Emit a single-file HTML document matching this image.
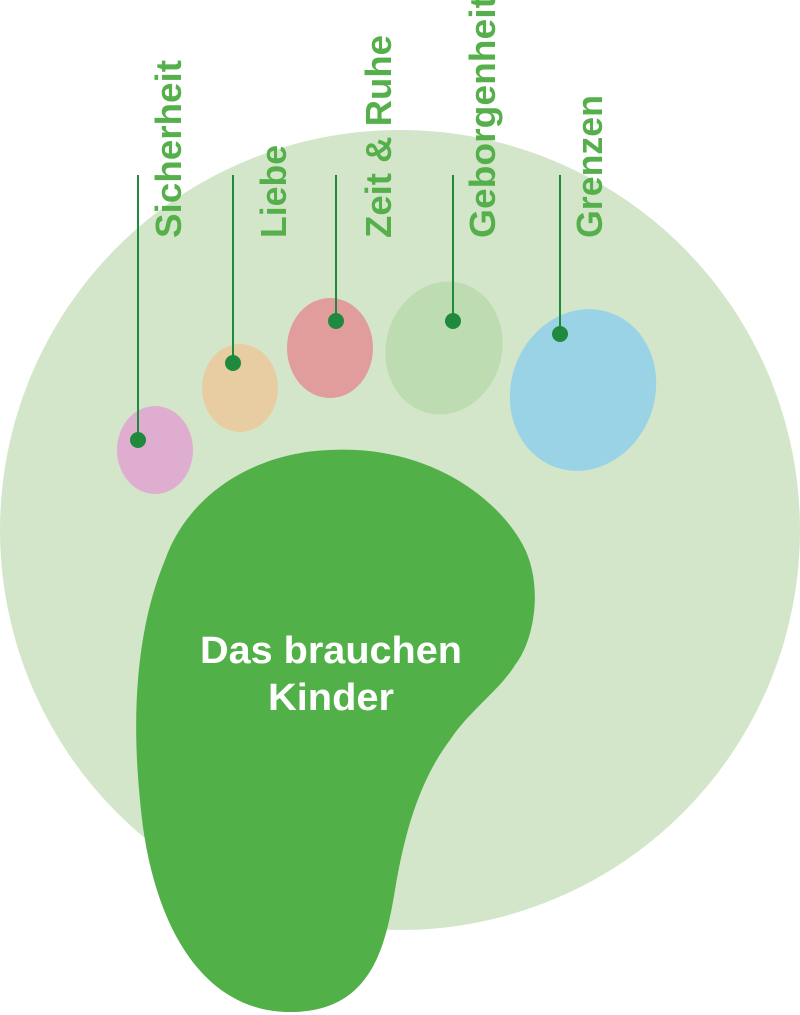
<!DOCTYPE html>
<html><head><meta charset="utf-8"><style>html,body{margin:0;padding:0;background:#fff}svg{display:block}</style></head>
<body>
<svg width="800" height="1015" viewBox="0 0 800 1015" xmlns="http://www.w3.org/2000/svg">
<circle cx="400" cy="530" r="400" fill="#d3e6ca"/>
<ellipse cx="155" cy="450" rx="38" ry="44" fill="#dfadd0"/>
<ellipse cx="240" cy="388" rx="38" ry="44" fill="#e7cda1"/>
<ellipse cx="330" cy="348" rx="43" ry="50" fill="#e19c9c"/>
<ellipse cx="444" cy="348" rx="58" ry="67" fill="#bddcb2" transform="rotate(15 444 348)"/>
<ellipse cx="583" cy="390" rx="72" ry="82" fill="#9ad3e6" transform="rotate(20 583 390)"/>
<path d="M330 450 C420 445 490 490 520 540 C545 580 535 640 515 665 C500 690 470 710 450 740 C420 780 405 830 395 890 C385 950 370 1012 290 1012 C200 1012 150 920 140 800 C130 700 140 620 165 560 C190 490 260 452 330 450 Z" fill="#51b047"/>
<g stroke="#1f8a3d" stroke-width="2">
<line x1="138" y1="175" x2="138" y2="440"/>
<line x1="233" y1="175" x2="233" y2="363"/>
<line x1="336" y1="175" x2="336" y2="321"/>
<line x1="453" y1="175" x2="453" y2="321"/>
<line x1="560" y1="175" x2="560" y2="334"/>
</g>
<g fill="#1f8a3d">
<circle cx="138" cy="440" r="8"/><circle cx="233" cy="363" r="8"/><circle cx="336" cy="321" r="8"/><circle cx="453" cy="321" r="8"/><circle cx="560" cy="334" r="8"/>
</g>
<g font-family="Liberation Sans, sans-serif" font-weight="bold" font-size="36" fill="#55b04b">
<text transform="translate(181 238) rotate(-90)" textLength="178" lengthAdjust="spacingAndGlyphs">Sicherheit</text>
<text transform="translate(286 238) rotate(-90)" textLength="93" lengthAdjust="spacingAndGlyphs">Liebe</text>
<text transform="translate(391 238) rotate(-90)" textLength="203" lengthAdjust="spacingAndGlyphs">Zeit &amp; Ruhe</text>
<text transform="translate(495 238) rotate(-90)" textLength="242" lengthAdjust="spacingAndGlyphs">Geborgenheit</text>
<text transform="translate(602 238) rotate(-90)" textLength="143" lengthAdjust="spacingAndGlyphs">Grenzen</text>
</g>
<g font-family="Liberation Sans, sans-serif" font-weight="bold" font-size="38" fill="#fff" text-anchor="middle">
<text x="331" y="663" textLength="262" lengthAdjust="spacingAndGlyphs">Das brauchen</text>
<text x="331" y="710" textLength="126" lengthAdjust="spacingAndGlyphs">Kinder</text>
</g>
</svg>
</body></html>
